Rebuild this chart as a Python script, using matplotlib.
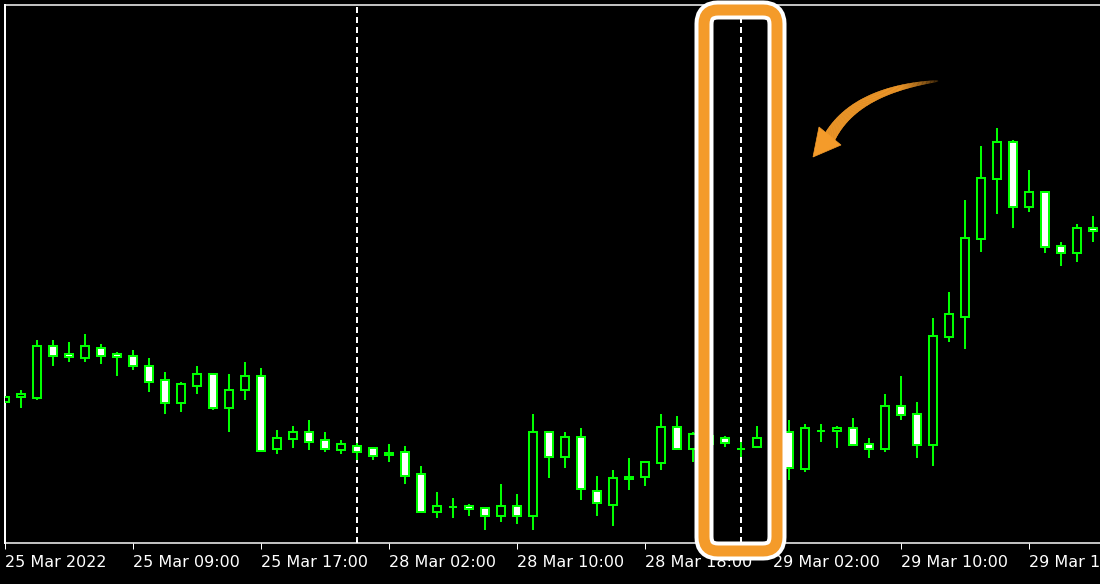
import matplotlib
matplotlib.use("Agg")
import matplotlib.pyplot as plt
from matplotlib.patches import Rectangle, FancyBboxPatch, Polygon
import numpy as np

# hourly bars 25-29 Mar 2022, prices in chart points (no price scale is shown)
opens  = [182, 187, 186, 238, 230, 226, 236, 230, 228, 218, 204, 181, 198, 210, 176, 194, 208,
          135, 145, 152, 144, 134, 138, 136, 131, 132, 110, 72, 77, 78, 76, 68, 78, 68,
          152, 127, 147, 93, 79, 107, 107, 121, 157, 135, 148, 146, 135, 137, 146,
          152, 115, 153, 153, 156, 140, 135, 178, 170, 139, 247, 267, 345, 405, 442,
          377, 392, 338, 331, 356]
highs  = [188, 194, 244, 244, 242, 250, 240, 232, 234, 226, 212, 202, 218, 210, 210, 222, 216,
          154, 158, 164, 152, 144, 141, 136, 140, 138, 118, 92, 86, 80, 76, 100, 90, 170,
          152, 152, 156, 108, 114, 126, 122, 170, 168, 152, 154, 148, 142, 158, 160,
          164, 160, 160, 158, 166, 146, 190, 208, 182, 266, 292, 384, 438, 456, 444,
          414, 392, 342, 360, 368]
lows   = [181, 176, 184, 218, 222, 222, 220, 208, 214, 192, 170, 172, 190, 174, 152, 184, 132,
          130, 136, 134, 132, 130, 124, 124, 122, 100, 72, 66, 66, 68, 54, 62, 60, 54,
          106, 116, 84, 68, 58, 94, 98, 114, 135, 122, 136, 137, 127, 137, 140,
          104, 112, 142, 136, 139, 126, 132, 164, 126, 118, 242, 235, 332, 370, 356,
          372, 331, 318, 322, 342]
closes = [187, 190, 238, 228, 227, 238, 228, 227, 218, 202, 181, 200, 210, 176, 194, 208, 133,
          146, 152, 142, 135, 140, 132, 128, 129, 108, 72, 78, 77, 75, 68, 78, 68, 152,
          127, 147, 95, 81, 106, 105, 122, 157, 135, 150, 140, 141, 135, 146, 152,
          116, 156, 153, 156, 139, 135, 178, 169, 139, 248, 270, 346, 406, 442, 377,
          392, 337, 331, 356, 353]

tick_bars = [0, 8, 16, 24, 32, 40, 48, 56, 64]
tick_labels = ['25 Mar 2022', '25 Mar 09:00', '25 Mar 17:00', '28 Mar 02:00', '28 Mar 10:00',
               '28 Mar 18:00', '29 Mar 02:00', '29 Mar 10:00', '29 Mar 18:00']
day_breaks = [22, 46]

GREEN = '#00ff00'
ORANGE = '#f49b2a'
PX = 0.72  # points per pixel at dpi 100

plt.rcParams['lines.scale_dashes'] = False
fig = plt.figure(figsize=(11, 5.84), dpi=100, facecolor='black')
ax = fig.add_axes([5/1100, 41/584, 1095/1100, 538/584])
ax.set_facecolor('black')
ax.set_xlim(0, 1095/16)
ax.set_ylim(41, 579)

# candles
n = len(opens)
ax.vlines(range(n), lows, highs, colors=GREEN, lw=2*PX, antialiased=False, zorder=2)
for i in range(n):
    o, c = opens[i], closes[i]
    face = 'black' if c >= o else 'white'
    ax.add_patch(Rectangle((i - 0.26, min(o, c)), 0.52, abs(c - o), facecolor=face,
                           edgecolor=GREEN, lw=2*PX, antialiased=False, zorder=3))

# day separators
for b in day_breaks:
    ax.axvline(b, color='white', lw=2*PX, linestyle=(0, (4.3, 2.9)), antialiased=False, zorder=1)

ax.spines['right'].set_visible(False)
ax.spines['left'].set_color('white')
ax.spines['left'].set_linewidth(2*PX)
ax.spines['top'].set_color('white')
ax.spines['top'].set_linewidth(1.5*PX)
ax.spines['bottom'].set_color('white')
ax.spines['bottom'].set_linewidth(1.5*PX)

ax.set_yticks([])
ax.set_xticks(tick_bars, tick_labels)
ax.tick_params(axis='x', colors='white', labelsize=11.5, length=6*PX, width=PX,
               direction='out', pad=4)
for lab in ax.get_xticklabels():
    lab.set_ha('left')

# annotation layer in pixel coordinates
ov = fig.add_axes([0, 0, 1, 1])
ov.set_xlim(0, 1100)
ov.set_ylim(584, 0)
ov.axis('off')
ov.patch.set_alpha(0)

for col, w in [('white', 19), (ORANGE, 11)]:
    ov.add_patch(FancyBboxPatch((704, 10), 73, 541, boxstyle="round,pad=0,rounding_size=14",
                                fill=False, ec=col, lw=w*PX))

# curved arrow
p0 = np.array([938, 81.0])
p1 = np.array([855, 90.0])
p2 = np.array([829.5, 137.5])
t = np.linspace(0, 1, 120)
pts = ((1-t)**2)[:, None]*p0 + (2*t*(1-t))[:, None]*p1 + (t**2)[:, None]*p2
d = np.gradient(pts, axis=0)
nrm = np.stack([-d[:, 1], d[:, 0]], axis=1)
nrm /= np.linalg.norm(nrm, axis=1)[:, None]
hw = 0.5 + 5.5*t**0.7
left = pts + nrm*hw[:, None]
right = pts - nrm*hw[:, None]
for i in range(len(t) - 1):
    a = min(1.0, 0.15 + t[i]/0.3)
    quad = [left[i], left[i+1], right[i+1], right[i]]
    ov.add_patch(Polygon(quad, closed=True, fc=ORANGE, ec=ORANGE, lw=0.3, alpha=a))
ov.add_patch(Polygon([(813, 157), (819, 127), (841, 145)], closed=True, fc=ORANGE, ec=ORANGE, lw=0.5))

fig.savefig('out.png', dpi=100, facecolor='black')
